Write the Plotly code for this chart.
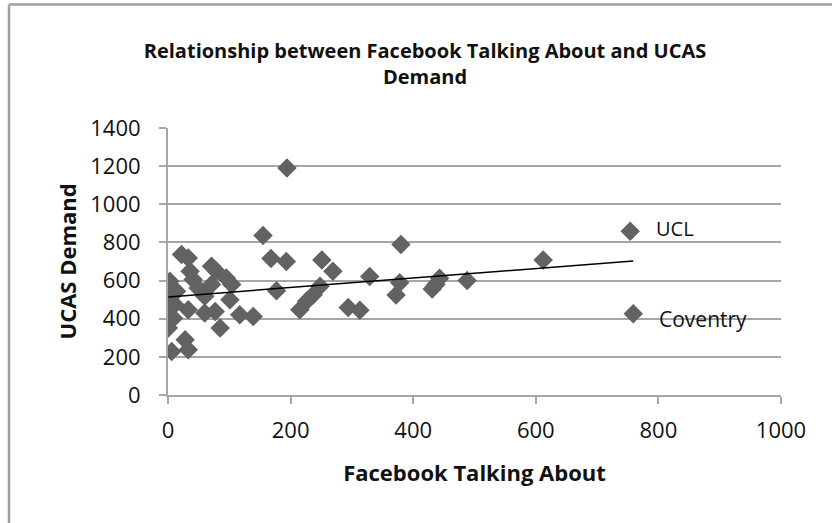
import numpy as np
import plotly.graph_objects as go

# Data
facebook_talking_about = [
    3, 0.5, 3, 0.5, 6, 28, 33, 22, 33, 36, 41, 49, 71, 79, 95, 104, 71, 60,
    33, 11, 60, 77, 85, 117, 139, 101, 14, 9,
    155, 168, 193, 177, 194, 251, 269, 248, 237, 226, 215, 329, 294, 313,
    380, 378, 372, 443, 431, 437, 488, 612, 754, 759,
]
ucas_demand = [
    596, 518, 456, 351, 228, 290, 237, 737, 719, 649, 605, 561, 675, 649, 614, 579, 579, 518,
    447, 474, 430, 438, 351, 421, 412, 500, 544, 403,
    836, 716, 700, 546, 1190, 708, 649, 570, 526, 491, 447, 622, 459, 445,
    789, 588, 524, 612, 556, 580, 601, 708, 858, 426,
]
labelled_points = {"UCL": (754, 858), "Coventry": (759, 426)}

x_ticks = [0, 200, 400, 600, 800, 1000]
y_ticks = [0, 200, 400, 600, 800, 1000, 1200, 1400]

xa = np.array(facebook_talking_about, dtype=float)
ya = np.array(ucas_demand, dtype=float)
slope, intercept = np.polyfit(xa, ya, 1)
trend_x = [xa.min(), xa.max()]
trend_y = [intercept + slope * v for v in trend_x]

FONT = "Open Sans"
GRID = "#A6A6A6"
TEXT = "#111111"

fig = go.Figure()
fig.add_trace(go.Scatter(
    x=facebook_talking_about, y=ucas_demand, mode="markers",
    marker=dict(symbol="diamond", size=15, color="#626262", line=dict(width=0)),
    showlegend=False, hoverinfo="x+y",
))
fig.add_trace(go.Scatter(
    x=trend_x, y=trend_y, mode="lines",
    line=dict(color="black", width=1.5), showlegend=False, hoverinfo="skip",
))

for name, (px_, py_) in labelled_points.items():
    fig.add_annotation(
        x=px_, y=py_, text=name, showarrow=False, xanchor="left",
        xshift=24, yshift=3 if name == "UCL" else -5,
        font=dict(family=FONT, size=20 if name == "UCL" else 21, color=TEXT),
    )

# Outer chart border (top and left edges visible)
def px_to_paper_x(p):
    return (p - 168) / 613.0

def px_to_paper_y(p):
    return (395 - p) / 266.0

fig.add_shape(type="line", xref="paper", yref="paper",
              x0=px_to_paper_x(9), x1=px_to_paper_x(832), y0=px_to_paper_y(6), y1=px_to_paper_y(6),
              line=dict(color="#A0A0A0", width=2.5))
fig.add_shape(type="line", xref="paper", yref="paper",
              x0=px_to_paper_x(9), x1=px_to_paper_x(9), y0=px_to_paper_y(6), y1=px_to_paper_y(523),
              line=dict(color="#A0A0A0", width=2.5))

# Y-axis title as a rotated annotation for exact placement
fig.add_annotation(
    xref="paper", yref="paper", x=px_to_paper_x(66), y=px_to_paper_y(262),
    text="<b>UCAS Demand</b>", textangle=-90, showarrow=False,
    xanchor="center", yanchor="middle",
    font=dict(family=FONT, size=22, color=TEXT),
)

fig.update_layout(
    width=832, height=523,
    margin=dict(l=168, r=51, t=128, b=128),
    paper_bgcolor="white", plot_bgcolor="white",
    title=dict(
        text="Relationship between Facebook Talking About and UCAS<br>Demand",
        x=425 / 832, xanchor="center", y=1 - 57.5 / 523, yanchor="middle",
        font=dict(family=FONT, size=20, color=TEXT, weight="bold"),
    ),
    xaxis=dict(
        range=[0, 1000], tickvals=x_ticks, ticktext=[str(t) for t in x_ticks],
        showgrid=False, zeroline=False,
        showline=True, linecolor=GRID, linewidth=2,
        ticks="outside", ticklen=7, tickcolor=GRID, tickwidth=2,
        ticklabelstandoff=8,
        tickfont=dict(family=FONT, size=22, color=TEXT),
        title=dict(text="Facebook Talking About", standoff=22,
                   font=dict(family=FONT, size=22, color=TEXT, weight="bold")),
        fixedrange=True,
    ),
    yaxis=dict(
        range=[0, 1400], tickvals=y_ticks, ticktext=[str(t) for t in y_ticks],
        showgrid=True, gridcolor=GRID, gridwidth=2, zeroline=False,
        showline=True, linecolor=GRID, linewidth=2,
        ticks="outside", ticklen=7, tickcolor=GRID, tickwidth=2,
        ticklabelstandoff=14,
        tickfont=dict(family=FONT, size=22, color=TEXT),
        fixedrange=True,
    ),
)

fig.write_html("out.html", config={"displayModeBar": False},
               post_script="document.body.style.margin='0';")
